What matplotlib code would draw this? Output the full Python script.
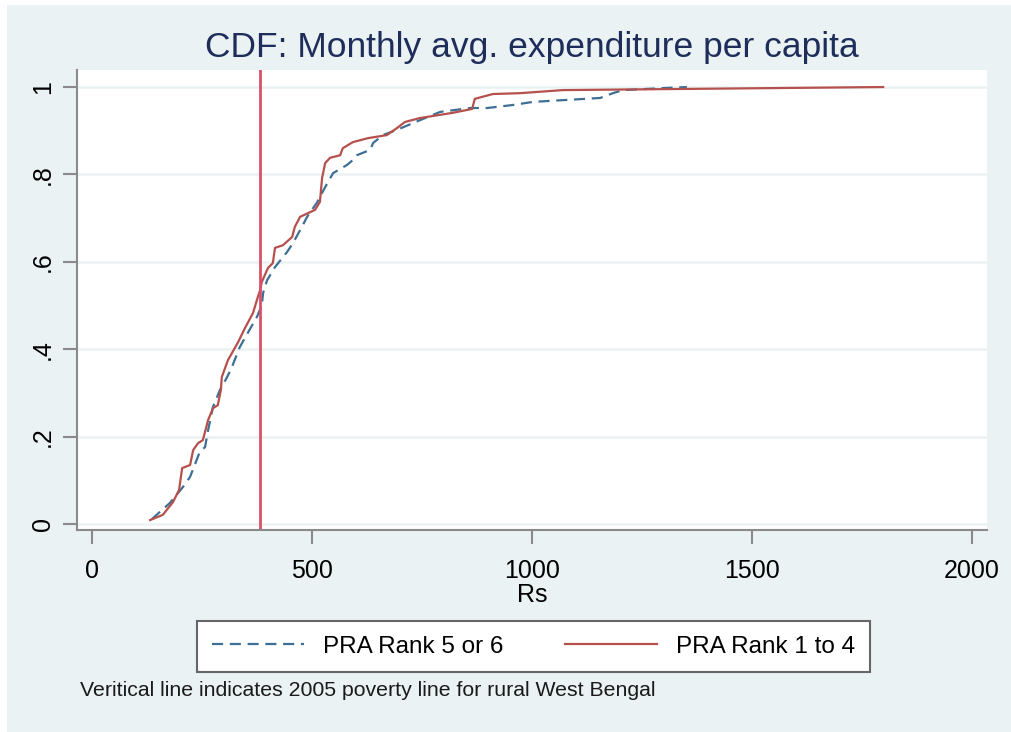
import matplotlib
matplotlib.use("Agg")
import matplotlib.pyplot as plt
from matplotlib.patches import Rectangle

# CDF points (Rs, cumulative share)
rank56_x = [136, 159, 177, 207, 223, 245, 257, 264, 275, 291, 307, 318, 336, 355, 375,
            386, 389, 398, 416, 443, 457, 477, 489, 511, 530, 548, 580, 593, 602, 632,
            639, 661, 693, 745, 791, 859, 898, 957, 1002, 1155, 1184, 1207, 1307, 1352]
rank56_y = [0.011, 0.032, 0.048, 0.085, 0.108, 0.165, 0.176, 0.215, 0.268, 0.307, 0.336,
            0.359, 0.405, 0.439, 0.474, 0.501, 0.529, 0.558, 0.588, 0.622, 0.643, 0.680,
            0.703, 0.735, 0.771, 0.803, 0.822, 0.833, 0.844, 0.856, 0.872, 0.890, 0.902,
            0.924, 0.943, 0.952, 0.952, 0.959, 0.966, 0.975, 0.986, 0.993, 0.998, 1.0]

rank14_x = [132, 161, 184, 198, 205, 223, 230, 241, 252, 264, 275, 286, 293, 295, 309,
            332, 348, 366, 375, 382, 386, 400, 411, 416, 434, 455, 461, 473, 507, 518,
            523, 530, 541, 564, 570, 593, 627, 670, 693, 711, 745, 820, 864, 870, 911,
            973, 1070, 1798]
rank14_y = [0.009, 0.021, 0.050, 0.078, 0.128, 0.135, 0.169, 0.185, 0.192, 0.238, 0.265,
            0.272, 0.307, 0.336, 0.375, 0.416, 0.449, 0.483, 0.513, 0.535, 0.554, 0.586,
            0.597, 0.632, 0.638, 0.657, 0.680, 0.703, 0.719, 0.737, 0.792, 0.826, 0.838,
            0.844, 0.860, 0.874, 0.883, 0.890, 0.906, 0.920, 0.929, 0.941, 0.950, 0.973,
            0.984, 0.986, 0.993, 1.0]

poverty_line = 382
xticks = [0, 500, 1000, 1500, 2000]
yticks = [0, 0.2, 0.4, 0.6, 0.8, 1.0]
ytick_labels = ["0", ".2", ".4", ".6", ".8", "1"]

bg = "#eaf2f3"
plt.rcParams["font.family"] = ["Liberation Sans", "DejaVu Sans"]

fig = plt.figure(figsize=(10.11, 7.32), dpi=100)
fig.patches.append(Rectangle((7 / 1011, 0), 1, 1 - 5 / 732, transform=fig.transFigure,
                             facecolor=bg, edgecolor="none", zorder=-10))

ax = fig.add_axes([77 / 1011, 202 / 732, 910 / 1011, 460 / 732])
ax.set_facecolor("white")

ax.plot(rank56_x, rank56_y, color="#3f6f94", lw=1.6, dashes=(5, 3), label="PRA Rank 5 or 6")
ax.plot(rank14_x, rank14_y, color="#b5504c", lw=1.6, label="PRA Rank 1 to 4")
ax.axvline(poverty_line, color="#d9506a", lw=2)

ax.set_xlim(-34, 2034)
ax.set_ylim(-0.0137, 1.039)
ax.set_xticks(xticks)
ax.set_xticklabels([str(t) for t in xticks], fontsize=18)
ax.set_yticks(yticks)
ax.set_yticklabels(ytick_labels, fontsize=18, rotation=90, va="center")
ax.tick_params(axis="x", length=10, width=1.5, color="#8a8a8a", pad=11)
ax.tick_params(axis="y", length=10, width=1.5, color="#8a8a8a", pad=6)
ax.yaxis.grid(True, color=bg, lw=1.8)
ax.set_axisbelow(True)
for s in ["top", "right"]:
    ax.spines[s].set_visible(False)
for s in ["left", "bottom"]:
    ax.spines[s].set_color("#8a8a8a")
    ax.spines[s].set_linewidth(1.5)

ax.set_xlabel("Rs", fontsize=18, labelpad=0)
fig.text(532 / 1011, 1 - 47 / 732, "CDF: Monthly avg. expenditure per capita",
         ha="center", va="center", fontsize=25.5, color="#1e2d5a")

leg = fig.legend(loc="center", ncol=2, bbox_to_anchor=(533.5 / 1011, 85.5 / 732),
                 prop={"size": 17.5}, handlelength=3.8, handletextpad=0.8,
                 columnspacing=2.5, borderpad=0.6,
                 fancybox=False, framealpha=1, edgecolor="#666666")
leg.get_frame().set_linewidth(1.5)

fig.text(80 / 1011, 1 - 690 / 732,
         "Veritical line indicates 2005 poverty line for rural West Bengal",
         ha="left", va="center", fontsize=15.3, color="#1a1a1a")

fig.savefig("out.png", dpi=100)
